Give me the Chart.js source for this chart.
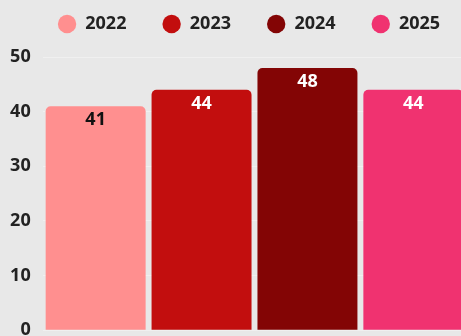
<!DOCTYPE html>
<html>
<head>
<meta charset="utf-8">
<script src="https://cdn.jsdelivr.net/npm/chart.js@4.4.1/dist/chart.umd.min.js"></script>
<style>
  html, body { margin: 0; padding: 0; background: #e8e8e8; overflow: hidden; }
  #wrap { width: 461px; height: 336px; overflow: hidden; position: relative; }
  canvas { display: block; }
</style>
</head>
<body>
<div id="wrap"><canvas id="c" width="498" height="353"></canvas></div>
<script>
const categories = [''];
const seriesNames = ['2022', '2023', '2024', '2025'];
const seriesValues = [41, 44, 48, 44];
const seriesColors = ['#ff8f8f', '#c20e0e', '#830505', '#f03270'];
const labelColors = ['#111111', '#ffffff', '#ffffff', '#ffffff'];
const yTicks = [0, 10, 20, 30, 40, 50];

const FONT = '"Open Sans", "Noto Sans", sans-serif';

const valueLabels = {
  id: 'valueLabels',
  afterDatasetsDraw(chart) {
    const ctx = chart.ctx;
    ctx.save();
    ctx.font = 'bold 18px ' + FONT;
    ctx.textAlign = 'center';
    ctx.textBaseline = 'middle';
    chart.data.datasets.forEach((ds, i) => {
      const meta = chart.getDatasetMeta(i);
      meta.data.forEach((el, j) => {
        ctx.fillStyle = labelColors[i];
        ctx.fillText(String(ds.data[j]), el.x, el.y + 14);
      });
    });
    ctx.restore();
  }
};

// extra space below the legend
const legendGap = {
  id: 'legendGap',
  beforeLayout(chart) {
    const lg = chart.legend;
    if (lg && !lg._gapPatched) {
      const fit = lg.fit.bind(lg);
      lg.fit = function () { fit(); this.height += 14; };
      lg._gapPatched = true;
    }
  }
};

new Chart(document.getElementById('c'), {
  type: 'bar',
  data: {
    labels: categories,
    datasets: seriesNames.map((name, i) => ({
      label: name,
      data: [seriesValues[i]],
      backgroundColor: seriesColors[i],
      borderRadius: 5,
      borderSkipped: 'bottom',
      categoryPercentage: 1,
      barPercentage: 0.944
    }))
  },
  options: {
    responsive: false,
    animation: false,
    devicePixelRatio: 1,
    layout: { padding: { top: -21, left: 0, right: 0, bottom: 0 } },
    plugins: {
      legend: {
        position: 'top',
        labels: {
          usePointStyle: true,
          pointStyle: 'circle',
          boxHeight: 13,
          pointStyleWidth: 18.4,
          padding: 36,
          color: '#222222',
          font: { family: FONT, size: 18, weight: 'bold' }
        }
      },
      tooltip: { enabled: false }
    },
    scales: {
      x: { display: false },
      y: {
        min: 0, max: 50,
        afterFit(s) { s.width = 42.7; },
        afterBuildTicks(s) { s.ticks = yTicks.map(v => ({ value: v })); },
        border: { display: false },
        grid: { color: 'rgba(255,255,255,0.35)', drawTicks: false },
        ticks: {
          padding: 12,
          color: '#222222',
          font: { family: FONT, size: 18, weight: 'bold' }
        }
      },
      y2: {
        position: 'right',
        display: true,
        afterFit(s) { s.width = 31.7; },
        border: { display: false },
        grid: { display: false, drawTicks: false },
        ticks: { display: false }
      }
    }
  },
  plugins: [legendGap, valueLabels]
});
</script>
</body>
</html>
